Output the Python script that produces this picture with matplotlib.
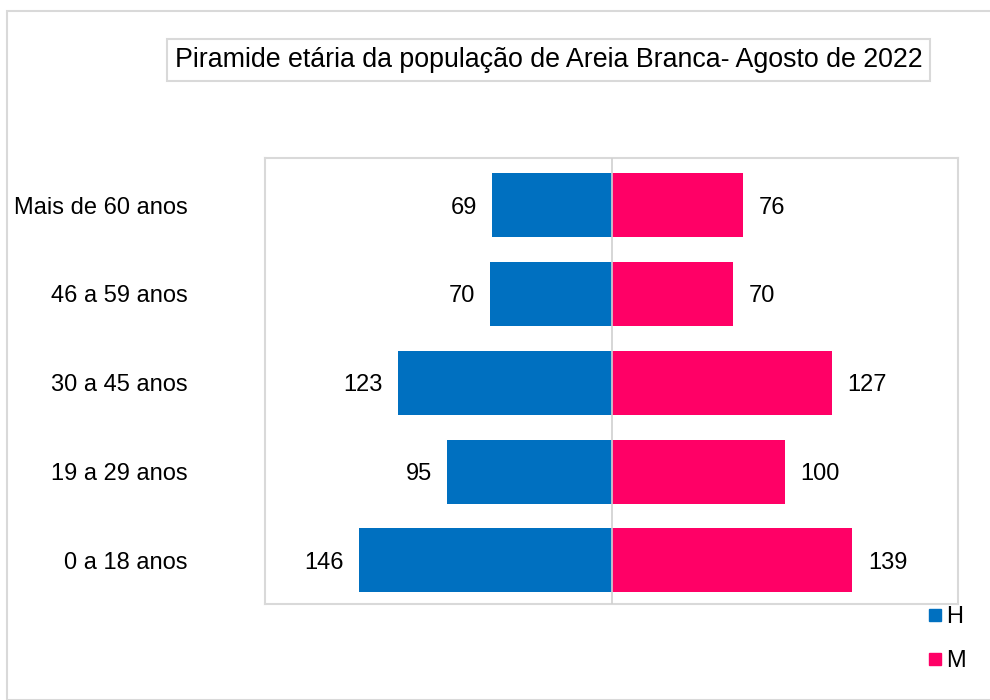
import matplotlib
matplotlib.use("Agg")
import matplotlib.pyplot as plt
from matplotlib.patches import Rectangle
from matplotlib.lines import Line2D

plt.rcParams['font.family'] = ['Liberation Sans', 'DejaVu Sans']

categories = ["0 a 18 anos", "19 a 29 anos", "30 a 45 anos", "46 a 59 anos", "Mais de 60 anos"]
homens = [146, 95, 123, 70, 69]
mulheres = [139, 100, 127, 70, 76]
title = "Piramide etária da população de Areia Branca- Agosto de 2022"

blue = "#0070C0"
pink = "#FF0066"

fig = plt.figure(figsize=(9.9, 7.0), dpi=100)
fig.patches.append(Rectangle((7/990, 0), 1, 1 - 11/700, transform=fig.transFigure,
                             fill=False, edgecolor="#d9d9d9", linewidth=1.5))

ax = fig.add_axes([265/990, 1 - 604/700, (958 - 265)/990, (604 - 158)/700])
y = list(range(len(categories)))
ax.barh(y, [-v for v in homens], height=0.72, color=blue)
ax.barh(y, mulheres, height=0.72, color=pink)
ax.set_xlim(-200, 200)
ax.set_ylim(-0.49, 4.53)
ax.axvline(0, color="#d0d0d0", linewidth=1.2, zorder=3)

for i, (h, m) in enumerate(zip(homens, mulheres)):
    ax.annotate(str(h), (-h, i), xytext=(-11, 0), textcoords="offset points",
                ha="right", va="center_baseline", fontsize=17)
    ax.annotate(str(m), (m, i), xytext=(11.5, 0), textcoords="offset points",
                ha="left", va="center_baseline", fontsize=17)

ax.set_xticks([])
ax.set_yticks(y)
ax.set_yticklabels(categories, fontsize=17)
ax.tick_params(axis="y", length=0, pad=55.5)
for s in ax.spines.values():
    s.set_color("#d9d9d9")
    s.set_linewidth(1.5)

fig.text(548.5/990, 1 - 60/700, title, ha="center", va="center", fontsize=19.3,
         bbox=dict(boxstyle="square,pad=0.28", facecolor="white", edgecolor="#d9d9d9", linewidth=1.5))

handles = [Line2D([], [], marker="s", linestyle="none", color=blue, markersize=9, label="H"),
           Line2D([], [], marker="s", linestyle="none", color=pink, markersize=9, label="M")]
fig.legend(handles=handles, loc="center", bbox_to_anchor=(947/990, 1 - 639/700),
           frameon=False, fontsize=17, handlelength=0.6, handletextpad=0.2, labelspacing=0.95)

fig.savefig("out.png", dpi=100)
